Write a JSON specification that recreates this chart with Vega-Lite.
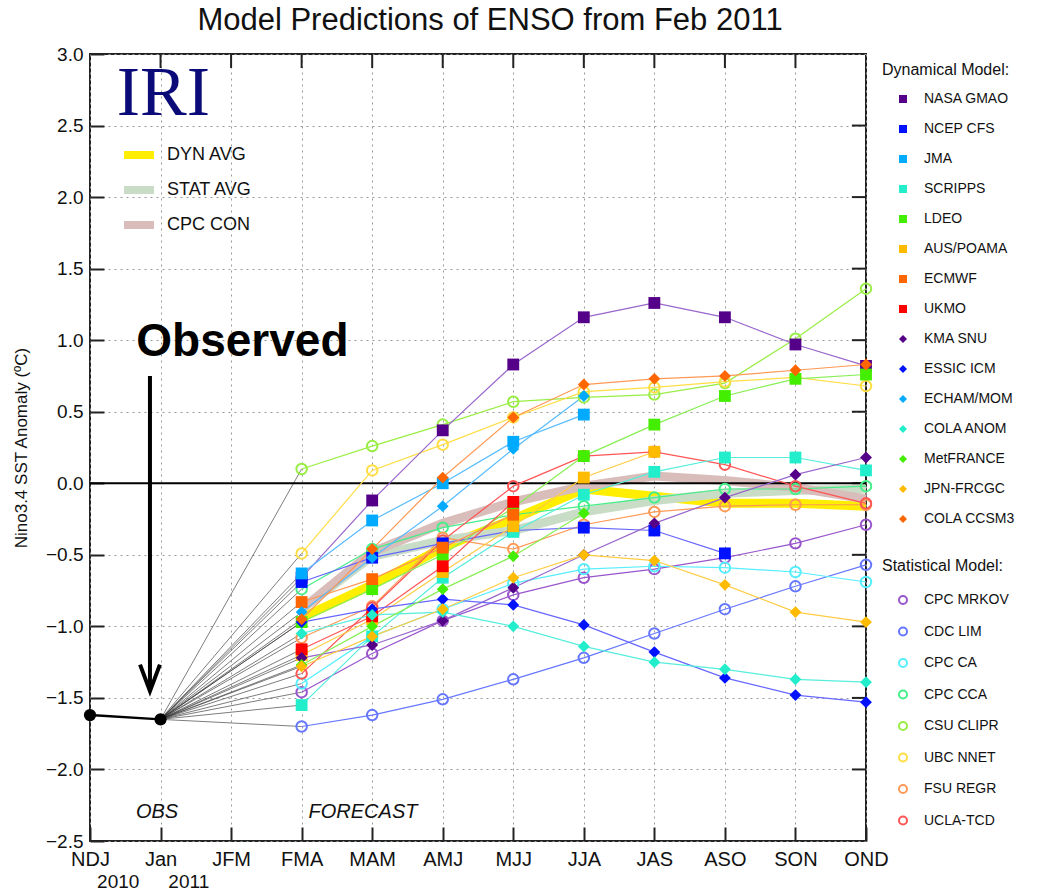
{
  "$schema": "https://vega.github.io/schema/vega-lite/v6.json",
  "width": 776,
  "height": 787,
  "padding": {"left": 12, "top": 5, "right": 5, "bottom": 5},
  "background": "white",
  "title": {"text": "Model Predictions of ENSO from Feb 2011", "fontSize": 31, "fontWeight": "normal", "font": "Liberation Sans", "color": "#111", "offset": 8, "dx": 12},
  "datasets": {
    "obs": [{"i": 0, "v": -1.62}, {"i": 1, "v": -1.65}],
    "avgs": [
      {"series": "DYN AVG", "i": 3, "v": -0.94}, {"series": "DYN AVG", "i": 4, "v": -0.71}, {"series": "DYN AVG", "i": 5, "v": -0.45}, {"series": "DYN AVG", "i": 6, "v": -0.25}, {"series": "DYN AVG", "i": 7, "v": -0.04}, {"series": "DYN AVG", "i": 8, "v": -0.09}, {"series": "DYN AVG", "i": 9, "v": -0.14}, {"series": "DYN AVG", "i": 10, "v": -0.14}, {"series": "DYN AVG", "i": 11, "v": -0.16},
      {"series": "STAT AVG", "i": 3, "v": -0.88}, {"series": "STAT AVG", "i": 4, "v": -0.51}, {"series": "STAT AVG", "i": 5, "v": -0.40}, {"series": "STAT AVG", "i": 6, "v": -0.33}, {"series": "STAT AVG", "i": 7, "v": -0.20}, {"series": "STAT AVG", "i": 8, "v": -0.12}, {"series": "STAT AVG", "i": 9, "v": -0.07}, {"series": "STAT AVG", "i": 10, "v": -0.05}, {"series": "STAT AVG", "i": 11, "v": -0.04},
      {"series": "CPC CON", "i": 3, "v": -0.88}, {"series": "CPC CON", "i": 4, "v": -0.48}, {"series": "CPC CON", "i": 5, "v": -0.28}, {"series": "CPC CON", "i": 6, "v": -0.13}, {"series": "CPC CON", "i": 7, "v": -0.02}, {"series": "CPC CON", "i": 8, "v": 0.05}, {"series": "CPC CON", "i": 9, "v": 0.02}, {"series": "CPC CON", "i": 10, "v": -0.03}, {"series": "CPC CON", "i": 11, "v": -0.11}
    ],
    "models": [
      {"model": "NASA GMAO", "type": "dyn", "i": 3, "v": -0.66}, {"model": "NASA GMAO", "type": "dyn", "i": 4, "v": -0.12}, {"model": "NASA GMAO", "type": "dyn", "i": 5, "v": 0.37}, {"model": "NASA GMAO", "type": "dyn", "i": 6, "v": 0.83}, {"model": "NASA GMAO", "type": "dyn", "i": 7, "v": 1.16}, {"model": "NASA GMAO", "type": "dyn", "i": 8, "v": 1.26}, {"model": "NASA GMAO", "type": "dyn", "i": 9, "v": 1.16}, {"model": "NASA GMAO", "type": "dyn", "i": 10, "v": 0.97}, {"model": "NASA GMAO", "type": "dyn", "i": 11, "v": 0.82},
      {"model": "NCEP CFS", "type": "dyn", "i": 3, "v": -0.69}, {"model": "NCEP CFS", "type": "dyn", "i": 4, "v": -0.52}, {"model": "NCEP CFS", "type": "dyn", "i": 5, "v": -0.42}, {"model": "NCEP CFS", "type": "dyn", "i": 6, "v": -0.33}, {"model": "NCEP CFS", "type": "dyn", "i": 7, "v": -0.31}, {"model": "NCEP CFS", "type": "dyn", "i": 8, "v": -0.33}, {"model": "NCEP CFS", "type": "dyn", "i": 9, "v": -0.49},
      {"model": "JMA", "type": "dyn", "i": 3, "v": -0.63}, {"model": "JMA", "type": "dyn", "i": 4, "v": -0.26}, {"model": "JMA", "type": "dyn", "i": 5, "v": 0.0}, {"model": "JMA", "type": "dyn", "i": 6, "v": 0.29}, {"model": "JMA", "type": "dyn", "i": 7, "v": 0.48},
      {"model": "SCRIPPS", "type": "dyn", "i": 3, "v": -1.55}, {"model": "SCRIPPS", "type": "dyn", "i": 4, "v": -1.07}, {"model": "SCRIPPS", "type": "dyn", "i": 5, "v": -0.66}, {"model": "SCRIPPS", "type": "dyn", "i": 6, "v": -0.34}, {"model": "SCRIPPS", "type": "dyn", "i": 7, "v": -0.08}, {"model": "SCRIPPS", "type": "dyn", "i": 8, "v": 0.08}, {"model": "SCRIPPS", "type": "dyn", "i": 9, "v": 0.18}, {"model": "SCRIPPS", "type": "dyn", "i": 10, "v": 0.18}, {"model": "SCRIPPS", "type": "dyn", "i": 11, "v": 0.09},
      {"model": "LDEO", "type": "dyn", "i": 3, "v": -0.97}, {"model": "LDEO", "type": "dyn", "i": 4, "v": -0.74}, {"model": "LDEO", "type": "dyn", "i": 5, "v": -0.50}, {"model": "LDEO", "type": "dyn", "i": 6, "v": -0.17}, {"model": "LDEO", "type": "dyn", "i": 7, "v": 0.19}, {"model": "LDEO", "type": "dyn", "i": 8, "v": 0.41}, {"model": "LDEO", "type": "dyn", "i": 9, "v": 0.61}, {"model": "LDEO", "type": "dyn", "i": 10, "v": 0.73}, {"model": "LDEO", "type": "dyn", "i": 11, "v": 0.76},
      {"model": "AUS/POAMA", "type": "dyn", "i": 3, "v": -1.20}, {"model": "AUS/POAMA", "type": "dyn", "i": 4, "v": -0.95}, {"model": "AUS/POAMA", "type": "dyn", "i": 5, "v": -0.62}, {"model": "AUS/POAMA", "type": "dyn", "i": 6, "v": -0.30}, {"model": "AUS/POAMA", "type": "dyn", "i": 7, "v": 0.04}, {"model": "AUS/POAMA", "type": "dyn", "i": 8, "v": 0.22},
      {"model": "ECMWF", "type": "dyn", "i": 3, "v": -0.83}, {"model": "ECMWF", "type": "dyn", "i": 4, "v": -0.67}, {"model": "ECMWF", "type": "dyn", "i": 5, "v": -0.45}, {"model": "ECMWF", "type": "dyn", "i": 6, "v": -0.22},
      {"model": "UKMO", "type": "dyn", "i": 3, "v": -1.16}, {"model": "UKMO", "type": "dyn", "i": 4, "v": -0.93}, {"model": "UKMO", "type": "dyn", "i": 5, "v": -0.58}, {"model": "UKMO", "type": "dyn", "i": 6, "v": -0.13},
      {"model": "KMA SNU", "type": "dyn", "i": 3, "v": -1.22}, {"model": "KMA SNU", "type": "dyn", "i": 4, "v": -1.13}, {"model": "KMA SNU", "type": "dyn", "i": 5, "v": -0.96}, {"model": "KMA SNU", "type": "dyn", "i": 6, "v": -0.73}, {"model": "KMA SNU", "type": "dyn", "i": 7, "v": -0.50}, {"model": "KMA SNU", "type": "dyn", "i": 8, "v": -0.28}, {"model": "KMA SNU", "type": "dyn", "i": 9, "v": -0.10}, {"model": "KMA SNU", "type": "dyn", "i": 10, "v": 0.06}, {"model": "KMA SNU", "type": "dyn", "i": 11, "v": 0.18},
      {"model": "ESSIC ICM", "type": "dyn", "i": 3, "v": -0.97}, {"model": "ESSIC ICM", "type": "dyn", "i": 4, "v": -0.88}, {"model": "ESSIC ICM", "type": "dyn", "i": 5, "v": -0.81}, {"model": "ESSIC ICM", "type": "dyn", "i": 6, "v": -0.85}, {"model": "ESSIC ICM", "type": "dyn", "i": 7, "v": -0.99}, {"model": "ESSIC ICM", "type": "dyn", "i": 8, "v": -1.18}, {"model": "ESSIC ICM", "type": "dyn", "i": 9, "v": -1.36}, {"model": "ESSIC ICM", "type": "dyn", "i": 10, "v": -1.48}, {"model": "ESSIC ICM", "type": "dyn", "i": 11, "v": -1.53},
      {"model": "ECHAM/MOM", "type": "dyn", "i": 3, "v": -0.90}, {"model": "ECHAM/MOM", "type": "dyn", "i": 4, "v": -0.52}, {"model": "ECHAM/MOM", "type": "dyn", "i": 5, "v": -0.16}, {"model": "ECHAM/MOM", "type": "dyn", "i": 6, "v": 0.24}, {"model": "ECHAM/MOM", "type": "dyn", "i": 7, "v": 0.61},
      {"model": "COLA ANOM", "type": "dyn", "i": 3, "v": -1.05}, {"model": "COLA ANOM", "type": "dyn", "i": 4, "v": -0.92}, {"model": "COLA ANOM", "type": "dyn", "i": 5, "v": -0.90}, {"model": "COLA ANOM", "type": "dyn", "i": 6, "v": -1.00}, {"model": "COLA ANOM", "type": "dyn", "i": 7, "v": -1.14}, {"model": "COLA ANOM", "type": "dyn", "i": 8, "v": -1.25}, {"model": "COLA ANOM", "type": "dyn", "i": 9, "v": -1.30}, {"model": "COLA ANOM", "type": "dyn", "i": 10, "v": -1.37}, {"model": "COLA ANOM", "type": "dyn", "i": 11, "v": -1.39},
      {"model": "MetFRANCE", "type": "dyn", "i": 3, "v": -1.27}, {"model": "MetFRANCE", "type": "dyn", "i": 4, "v": -1.00}, {"model": "MetFRANCE", "type": "dyn", "i": 5, "v": -0.74}, {"model": "MetFRANCE", "type": "dyn", "i": 6, "v": -0.51}, {"model": "MetFRANCE", "type": "dyn", "i": 7, "v": -0.21},
      {"model": "JPN-FRCGC", "type": "dyn", "i": 3, "v": -1.28}, {"model": "JPN-FRCGC", "type": "dyn", "i": 4, "v": -1.07}, {"model": "JPN-FRCGC", "type": "dyn", "i": 5, "v": -0.88}, {"model": "JPN-FRCGC", "type": "dyn", "i": 6, "v": -0.66}, {"model": "JPN-FRCGC", "type": "dyn", "i": 7, "v": -0.50}, {"model": "JPN-FRCGC", "type": "dyn", "i": 8, "v": -0.54}, {"model": "JPN-FRCGC", "type": "dyn", "i": 9, "v": -0.71}, {"model": "JPN-FRCGC", "type": "dyn", "i": 10, "v": -0.90}, {"model": "JPN-FRCGC", "type": "dyn", "i": 11, "v": -0.97},
      {"model": "COLA CCSM3", "type": "dyn", "i": 3, "v": -0.95}, {"model": "COLA CCSM3", "type": "dyn", "i": 4, "v": -0.46}, {"model": "COLA CCSM3", "type": "dyn", "i": 5, "v": 0.04}, {"model": "COLA CCSM3", "type": "dyn", "i": 6, "v": 0.46}, {"model": "COLA CCSM3", "type": "dyn", "i": 7, "v": 0.69}, {"model": "COLA CCSM3", "type": "dyn", "i": 8, "v": 0.73}, {"model": "COLA CCSM3", "type": "dyn", "i": 9, "v": 0.75}, {"model": "COLA CCSM3", "type": "dyn", "i": 10, "v": 0.79}, {"model": "COLA CCSM3", "type": "dyn", "i": 11, "v": 0.83},
      {"model": "CPC MRKOV", "type": "stat", "i": 3, "v": -1.46}, {"model": "CPC MRKOV", "type": "stat", "i": 4, "v": -1.19}, {"model": "CPC MRKOV", "type": "stat", "i": 5, "v": -0.96}, {"model": "CPC MRKOV", "type": "stat", "i": 6, "v": -0.78}, {"model": "CPC MRKOV", "type": "stat", "i": 7, "v": -0.66}, {"model": "CPC MRKOV", "type": "stat", "i": 8, "v": -0.60}, {"model": "CPC MRKOV", "type": "stat", "i": 9, "v": -0.52}, {"model": "CPC MRKOV", "type": "stat", "i": 10, "v": -0.42}, {"model": "CPC MRKOV", "type": "stat", "i": 11, "v": -0.29},
      {"model": "CDC LIM", "type": "stat", "i": 3, "v": -1.70}, {"model": "CDC LIM", "type": "stat", "i": 4, "v": -1.62}, {"model": "CDC LIM", "type": "stat", "i": 5, "v": -1.51}, {"model": "CDC LIM", "type": "stat", "i": 6, "v": -1.37}, {"model": "CDC LIM", "type": "stat", "i": 7, "v": -1.22}, {"model": "CDC LIM", "type": "stat", "i": 8, "v": -1.05}, {"model": "CDC LIM", "type": "stat", "i": 9, "v": -0.88}, {"model": "CDC LIM", "type": "stat", "i": 10, "v": -0.72}, {"model": "CDC LIM", "type": "stat", "i": 11, "v": -0.57},
      {"model": "CPC CA", "type": "stat", "i": 3, "v": -1.40}, {"model": "CPC CA", "type": "stat", "i": 4, "v": -1.07}, {"model": "CPC CA", "type": "stat", "i": 5, "v": -0.88}, {"model": "CPC CA", "type": "stat", "i": 6, "v": -0.70}, {"model": "CPC CA", "type": "stat", "i": 7, "v": -0.60}, {"model": "CPC CA", "type": "stat", "i": 8, "v": -0.58}, {"model": "CPC CA", "type": "stat", "i": 9, "v": -0.59}, {"model": "CPC CA", "type": "stat", "i": 10, "v": -0.62}, {"model": "CPC CA", "type": "stat", "i": 11, "v": -0.69},
      {"model": "CPC CCA", "type": "stat", "i": 3, "v": -0.74}, {"model": "CPC CCA", "type": "stat", "i": 4, "v": -0.46}, {"model": "CPC CCA", "type": "stat", "i": 5, "v": -0.31}, {"model": "CPC CCA", "type": "stat", "i": 6, "v": -0.22}, {"model": "CPC CCA", "type": "stat", "i": 7, "v": -0.16}, {"model": "CPC CCA", "type": "stat", "i": 8, "v": -0.10}, {"model": "CPC CCA", "type": "stat", "i": 9, "v": -0.04}, {"model": "CPC CCA", "type": "stat", "i": 10, "v": -0.04}, {"model": "CPC CCA", "type": "stat", "i": 11, "v": -0.02},
      {"model": "CSU CLIPR", "type": "stat", "i": 3, "v": 0.10}, {"model": "CSU CLIPR", "type": "stat", "i": 4, "v": 0.26}, {"model": "CSU CLIPR", "type": "stat", "i": 5, "v": 0.41}, {"model": "CSU CLIPR", "type": "stat", "i": 6, "v": 0.57}, {"model": "CSU CLIPR", "type": "stat", "i": 7, "v": 0.60}, {"model": "CSU CLIPR", "type": "stat", "i": 8, "v": 0.62}, {"model": "CSU CLIPR", "type": "stat", "i": 9, "v": 0.70}, {"model": "CSU CLIPR", "type": "stat", "i": 10, "v": 1.01}, {"model": "CSU CLIPR", "type": "stat", "i": 11, "v": 1.36},
      {"model": "UBC NNET", "type": "stat", "i": 3, "v": -0.49}, {"model": "UBC NNET", "type": "stat", "i": 4, "v": 0.09}, {"model": "UBC NNET", "type": "stat", "i": 5, "v": 0.27}, {"model": "UBC NNET", "type": "stat", "i": 6, "v": 0.46}, {"model": "UBC NNET", "type": "stat", "i": 7, "v": 0.64}, {"model": "UBC NNET", "type": "stat", "i": 8, "v": 0.67}, {"model": "UBC NNET", "type": "stat", "i": 9, "v": 0.71}, {"model": "UBC NNET", "type": "stat", "i": 10, "v": 0.74}, {"model": "UBC NNET", "type": "stat", "i": 11, "v": 0.68},
      {"model": "FSU REGR", "type": "stat", "i": 3, "v": -1.08}, {"model": "FSU REGR", "type": "stat", "i": 4, "v": -0.86}, {"model": "FSU REGR", "type": "stat", "i": 5, "v": -0.38}, {"model": "FSU REGR", "type": "stat", "i": 6, "v": -0.46}, {"model": "FSU REGR", "type": "stat", "i": 7, "v": -0.29}, {"model": "FSU REGR", "type": "stat", "i": 8, "v": -0.20}, {"model": "FSU REGR", "type": "stat", "i": 9, "v": -0.16}, {"model": "FSU REGR", "type": "stat", "i": 10, "v": -0.15}, {"model": "FSU REGR", "type": "stat", "i": 11, "v": -0.15},
      {"model": "UCLA-TCD", "type": "stat", "i": 3, "v": -1.33}, {"model": "UCLA-TCD", "type": "stat", "i": 4, "v": -0.87}, {"model": "UCLA-TCD", "type": "stat", "i": 5, "v": -0.40}, {"model": "UCLA-TCD", "type": "stat", "i": 6, "v": -0.02}, {"model": "UCLA-TCD", "type": "stat", "i": 7, "v": 0.19}, {"model": "UCLA-TCD", "type": "stat", "i": 8, "v": 0.22}, {"model": "UCLA-TCD", "type": "stat", "i": 9, "v": 0.13}, {"model": "UCLA-TCD", "type": "stat", "i": 10, "v": -0.02}, {"model": "UCLA-TCD", "type": "stat", "i": 11, "v": -0.14}
    ],
    "xticks": [{"i": 1}, {"i": 2}, {"i": 3}, {"i": 4}, {"i": 5}, {"i": 6}, {"i": 7}, {"i": 8}, {"i": 9}, {"i": 10}],
    "yticks": [{"v": -2}, {"v": -1.5}, {"v": -1}, {"v": -0.5}, {"v": 0}, {"v": 0.5}, {"v": 1}, {"v": 1.5}, {"v": 2}, {"v": 2.5}]
  },
  "encoding": {
    "x": {"type": "quantitative", "scale": {"domain": [0, 11], "nice": false, "zero": false},
      "axis": {"title": null, "values": [0, 1, 2, 3, 4, 5, 6, 7, 8, 9, 10, 11], "labelExpr": "['NDJ','Jan','JFM','FMA','MAM','AMJ','MJJ','JJA','JAS','ASO','SON','OND'][datum.value]", "labelFontSize": 20, "labelFont": "Liberation Sans", "labelColor": "#111", "labelPadding": 22, "tickSize": -14, "tickWidth": 2, "tickColor": "#222", "domain": false, "grid": true, "gridDash": [2, 4], "gridColor": "#999", "gridWidth": 1, "labelFlush": false, "labelOverlap": false}},
    "y": {"type": "quantitative", "scale": {"domain": [-2.5, 3], "nice": false, "zero": false},
      "axis": {"title": "Nino3.4 SST Anomaly (ºC)", "titleFontSize": 17, "titleFontWeight": "normal", "titleFont": "Liberation Sans", "titleColor": "#111", "titlePadding": 15, "values": [-2.5, -2, -1.5, -1, -0.5, 0, 0.5, 1, 1.5, 2, 2.5, 3], "format": ".1f", "labelFontSize": 19, "labelFont": "Liberation Sans", "labelColor": "#111", "labelPadding": 21, "tickSize": -14, "tickWidth": 2, "tickColor": "#222", "domain": false, "grid": true, "gridDash": [2, 4], "gridColor": "#999", "gridWidth": 1}}
  },
  "layer": [
    {
      "data": {"name": "obs"},
      "mark": {"type": "line", "color": "#000", "strokeWidth": 2.5},
      "encoding": {"x": {"field": "i"}, "y": {"field": "v"}}
    },
    {
      "data": {"name": "xticks"},
      "mark": {"type": "rule", "color": "#222", "strokeWidth": 2},
      "encoding": {"x": {"field": "i"}, "y": {"datum": 3}, "y2": {"datum": 2.902}}
    },
    {
      "data": {"name": "yticks"},
      "mark": {"type": "rule", "color": "#222", "strokeWidth": 2},
      "encoding": {"y": {"field": "v"}, "x": {"datum": 11}, "x2": {"datum": 10.8}}
    },
    {
      "data": {"name": "models"},
      "transform": [{"filter": "datum.i == 3"}],
      "mark": {"type": "rule", "color": "#333", "strokeWidth": 0.8, "opacity": 0.8},
      "encoding": {
        "x": {"field": "i"},
        "y": {"field": "v"},
        "x2": {"datum": 1},
        "y2": {"datum": -1.65}
      }
    },
    {
      "data": {"name": "avgs"},
      "mark": {"type": "line", "strokeWidth": 9},
      "encoding": {
        "x": {"field": "i"},
        "y": {"field": "v"},
        "color": {"field": "series", "type": "nominal",
          "scale": {"domain": ["DYN AVG", "STAT AVG", "CPC CON"], "range": ["#FFEE00", "#C9DDC6", "#D9BDBB"]},
          "legend": {"orient": "none", "legendX": 30, "legendY": 82, "title": null, "symbolType": "stroke", "symbolStrokeWidth": 8, "symbolSize": 900, "labelFontSize": 18, "labelFont": "Liberation Sans", "labelColor": "#111", "rowPadding": -6, "labelOffset": 9}}
      }
    },
    {
      "data": {"values": [{"v": 0}]},
      "mark": {"type": "rule", "color": "#000", "strokeWidth": 2},
      "encoding": {"y": {"field": "v"}}
    },
    {
      "data": {"name": "models"},
      "transform": [{"filter": "datum.type == 'stat'"}],
      "mark": {"type": "line", "strokeWidth": 1.2},
      "encoding": {
        "x": {"field": "i"},
        "y": {"field": "v"},
        "color": {"field": "model", "type": "nominal", "legend": null,
          "scale": {"domain": ["CPC MRKOV", "CDC LIM", "CPC CA", "CPC CCA", "CSU CLIPR", "UBC NNET", "FSU REGR", "UCLA-TCD"], "range": ["#9955CC", "#6677FF", "#55EEFF", "#44EE88", "#99EE44", "#FFDD44", "#FF9955", "#FF5555"]}}
      }
    },
    {
      "data": {"name": "models"},
      "transform": [{"filter": "datum.type == 'dyn'"}],
      "mark": {"type": "line", "strokeWidth": 1.2},
      "encoding": {
        "x": {"field": "i"},
        "y": {"field": "v"},
        "color": {"field": "model", "type": "nominal", "legend": null,
          "scale": {"domain": ["NASA GMAO", "NCEP CFS", "JMA", "SCRIPPS", "LDEO", "AUS/POAMA", "ECMWF", "UKMO", "KMA SNU", "ESSIC ICM", "ECHAM/MOM", "COLA ANOM", "MetFRANCE", "JPN-FRCGC", "COLA CCSM3"], "range": ["#9966CC", "#6666FF", "#55BBFF", "#55EEDD", "#88EE55", "#FFCC44", "#FF9955", "#FF5555", "#9966CC", "#6666FF", "#55BBFF", "#55EEDD", "#88EE55", "#FFCC44", "#FF9955"]}}
      }
    },
    {
      "data": {"name": "models"},
      "transform": [{"filter": "datum.type == 'stat'"}],
      "mark": {"type": "point", "filled": false, "strokeWidth": 2, "size": 110, "shape": "circle", "opacity": 1},
      "encoding": {
        "x": {"field": "i"},
        "y": {"field": "v"},
        "color": {"field": "model", "type": "nominal",
          "scale": {"domain": ["CPC MRKOV", "CDC LIM", "CPC CA", "CPC CCA", "CSU CLIPR", "UBC NNET", "FSU REGR", "UCLA-TCD"], "range": ["#9955CC", "#6677FF", "#55EEFF", "#44EE88", "#99EE44", "#FFDD44", "#FF9955", "#FF5555"]},
          "legend": {"orient": "none", "legendX": 792, "legendY": 504, "title": "Statistical Model:", "titleFontSize": 16, "titleFontWeight": "normal", "titleFont": "Liberation Sans", "titleColor": "#111", "titlePadding": 19, "labelFontSize": 14, "labelFont": "Liberation Sans", "labelColor": "#111", "symbolSize": 64, "symbolStrokeWidth": 2, "symbolOffset": 14, "rowPadding": 15.5, "labelOffset": 14}}
      }
    },
    {
      "data": {"name": "models"},
      "transform": [{"filter": "datum.type == 'dyn'"}],
      "mark": {"type": "point", "filled": true, "size": 140, "opacity": 1},
      "encoding": {
        "x": {"field": "i"},
        "y": {"field": "v"},
        "color": {"field": "model", "type": "nominal", "title": "Dynamical Model:",
          "scale": {"domain": ["NASA GMAO", "NCEP CFS", "JMA", "SCRIPPS", "LDEO", "AUS/POAMA", "ECMWF", "UKMO", "KMA SNU", "ESSIC ICM", "ECHAM/MOM", "COLA ANOM", "MetFRANCE", "JPN-FRCGC", "COLA CCSM3"], "range": ["#550088", "#0011FF", "#00AAFF", "#22EECC", "#44EE00", "#FFBB00", "#FF6600", "#FF0000", "#550088", "#0011FF", "#00AAFF", "#22EECC", "#44EE00", "#FFBB00", "#FF6600"]},
          "legend": {"orient": "none", "legendX": 792, "legendY": 8, "title": "Dynamical Model:", "titleFontSize": 16, "titleFontWeight": "normal", "titleFont": "Liberation Sans", "titleColor": "#111", "titlePadding": 14, "labelFontSize": 14, "labelFont": "Liberation Sans", "labelColor": "#111", "symbolSize": 64, "symbolOffset": 14, "rowPadding": 16, "labelOffset": 14}},
        "shape": {"field": "model", "type": "nominal", "title": "Dynamical Model:",
          "scale": {"domain": ["NASA GMAO", "NCEP CFS", "JMA", "SCRIPPS", "LDEO", "AUS/POAMA", "ECMWF", "UKMO", "KMA SNU", "ESSIC ICM", "ECHAM/MOM", "COLA ANOM", "MetFRANCE", "JPN-FRCGC", "COLA CCSM3"], "range": ["square", "square", "square", "square", "square", "square", "square", "square", "diamond", "diamond", "diamond", "diamond", "diamond", "diamond", "diamond"]}}
      }
    },
    {
      "data": {"name": "obs"},
      "mark": {"type": "point", "filled": true, "color": "#000", "size": 150, "shape": "circle", "opacity": 1},
      "encoding": {"x": {"field": "i"}, "y": {"field": "v"}}
    },
    {
      "data": {"values": [{"top": 0.75, "bottom": -1.44, "pos": 0.85}]},
      "mark": {"type": "rule", "color": "#000", "strokeWidth": 4},
      "encoding": {"x": {"field": "pos"}, "y": {"field": "top"}, "y2": {"field": "bottom"}}
    },
    {
      "data": {"values": [{"v": -1.36, "pos": 0.85}]},
      "mark": {"type": "point", "shape": "M-0.75,-1L0,1L0.75,-1", "filled": false, "color": "#000", "strokeWidth": 4, "size": 700, "opacity": 1},
      "encoding": {"x": {"field": "pos"}, "y": {"field": "v"}}
    },
    {
      "data": {"values": [{"label": "Observed", "pos": 2.16, "v": 0.99}]},
      "mark": {"type": "text", "font": "Liberation Sans", "fontWeight": "bold", "fontSize": 46, "color": "#000", "align": "center", "baseline": "middle"},
      "encoding": {"x": {"field": "pos"}, "y": {"field": "v"}, "text": {"field": "label"}}
    },
    {
      "data": {"values": [{"label": "IRI", "pos": 1.04, "v": 2.72}]},
      "mark": {"type": "text", "font": "Liberation Serif", "fontSize": 70, "color": "#0A0A78", "align": "center", "baseline": "middle"},
      "encoding": {"x": {"field": "pos"}, "y": {"field": "v"}, "text": {"field": "label"}}
    },
    {
      "data": {"values": [{"label": "OBS", "pos": 0.95, "v": -2.3}, {"label": "FORECAST", "pos": 3.87, "v": -2.3}]},
      "mark": {"type": "text", "font": "Liberation Sans", "fontStyle": "italic", "fontSize": 20, "color": "#111", "align": "center", "baseline": "middle"},
      "encoding": {"x": {"field": "pos"}, "y": {"field": "v"}, "text": {"field": "label"}}
    },
    {
      "data": {"values": [{"label": "2010", "pos": 0.4, "v": -2.785}, {"label": "2011", "pos": 1.4, "v": -2.785}]},
      "mark": {"type": "text", "font": "Liberation Sans", "fontSize": 19, "color": "#111", "align": "center", "baseline": "middle"},
      "encoding": {"x": {"field": "pos"}, "y": {"field": "v"}, "text": {"field": "label"}}
    }
  ],
  "resolve": {"scale": {"color": "independent", "shape": "independent"}},
  "config": {
    "view": {"stroke": "#222", "strokeWidth": 2},
    "font": "Liberation Sans"
  }
}
